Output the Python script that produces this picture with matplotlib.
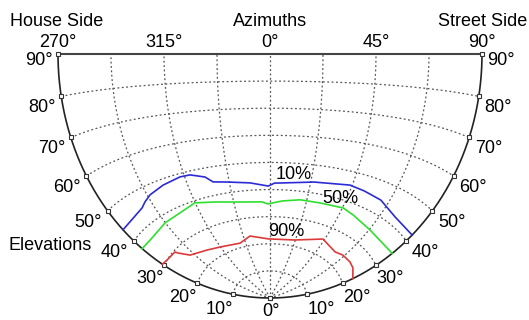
import numpy as np
import matplotlib
matplotlib.use('Agg')
import matplotlib.pyplot as plt

plt.rcParams['font.family'] = ['Liberation Sans', 'DejaVu Sans']
plt.rcParams['font.size'] = 13

# сетка и подписи осей
elev_ticks = [0, 10, 20, 30, 40, 50, 60, 70, 80, 90]
az_ticks = [-90, -45, 0, 45, 90]
az_labels = ['270°', '315°', '0°', '45°', '90°']
az_grid = [-67.5, -45, -22.5, 0, 22.5, 45, 67.5]
el_grid = [10, 20, 30, 40, 50, 60, 70, 80]

# изолинии (азимут, возвышение)
az_10 = [-90, -73.7, -70.5, -66.1, -57.4, -47.3, -42.0, -34.7, -31.2, -23.2,
         -11.2, -1.0, 2.6, 6.2, 24.3, 43.8, 52.3, 63.1, 75.4, 90]
el_10 = [43.9, 44.9, 45.9, 47.0, 48.1, 48.9, 48.7, 46.9, 44.7, 43.8,
         42.7, 41.3, 42.4, 42.5, 43.9, 45.4, 45.0, 44.4, 42.4, 42.1]

az_50 = [-90, -82.4, -67.7, -56.3, -45.2, -33.6, -19.9, -5.0, -1.3, 7.5,
         18.4, 30.8, 45.4, 53.1, 68.0, 90]
el_50 = [37.1, 36.8, 37.7, 38.1, 39.3, 37.7, 36.2, 35.5, 34.7, 35.9,
         36.9, 37.0, 37.5, 36.6, 35.2, 35.2]

az_90 = [-90, -85.4, -76.6, -75.7, -70.4, -56.6, -45.5, -27.4, -17.0, -1.4,
         22.1, 43.7, 59.1, 66.2, 75.2, 81.2, 90]
el_90 = [30.5, 30.0, 29.6, 28.8, 25.9, 23.9, 22.7, 21.6, 23.4, 21.8,
         22.3, 25.5, 23.8, 24.5, 24.6, 24.3, 23.0]


def project(az, el):
    # равнопромежуточная проекция полусферы
    a = np.radians(np.asarray(az, dtype=float))
    e = np.radians(np.asarray(el, dtype=float))
    X = np.sin(e) * np.sin(a)
    Y = np.cos(e)
    Z = np.sin(e) * np.cos(a)
    c = np.arccos(np.clip(Z, -1, 1))
    h = np.hypot(X, Y)
    h = np.where(h == 0, 1, h)
    r = c / (np.pi / 2)
    return r * X / h, -r * Y / h


fig = plt.figure(figsize=(5.29, 3.2), dpi=100)
ax = fig.add_axes([0, 0, 1, 1])
ax.set_xlim(-1.2736, 1.2217)
ax.set_ylim(-1.0902, 0.2213)
ax.axis('off')

grid_style = dict(color='#555555', lw=0.9, ls=(0, (1.5, 2.0)))
t = np.linspace(-90, 90, 200)
for e in el_grid:
    ax.plot(*project(t, np.full_like(t, e)), **grid_style)
s = np.linspace(0, 90, 200)
for a in az_grid:
    ax.plot(*project(np.full_like(s, a), s), **grid_style)

# контур
ax.plot(*project(np.full_like(s, -90), s), color='#222222', lw=1.2)
ax.plot(*project(np.full_like(s, 90), s), color='#222222', lw=1.2)
ax.plot(*project(t, np.full_like(t, 90)), color='#444444', lw=1.5)

for side in (-90, 90):
    ax.plot(*project(np.full(len(elev_ticks), side), elev_ticks), ls='none',
            marker='s', ms=3.2, mfc='white', mec='#333333', mew=0.8)

ax.plot(*project(az_10, el_10), color='#2b2bd6', lw=1.2)
ax.plot(*project(az_50, el_50), color='#2ee02e', lw=1.2)
ax.plot(*project(az_90, el_90), color='#dd3a3a', lw=1.2)

for txt, a, e in [('10%', 12.9, 45.7), ('50%', 41.3, 40.3), ('90%', 12.9, 25.0)]:
    x, y = project(a, e)
    ax.text(float(x), float(y), txt, ha='center', va='center')

# подписи азимутов
for a, lab in zip(az_ticks, az_labels):
    x, y = project(a, 90)
    ax.annotate(lab, (float(x), float(y)), xytext=(0, 7), textcoords='offset pixels',
                ha='center', va='baseline')

# подписи возвышений
for e in elev_ticks:
    if e == 0:
        x, y = project(0, 0)
        ax.annotate('0°', (float(x), float(y)), xytext=(1, -18), textcoords='offset pixels',
                    ha='center', va='baseline')
        continue
    dy = -11 if e == 90 else -(16 + max(0, 40 - e) * 0.12)
    dx = 5.5 if e >= 40 else 0.5
    x, y = project(-90, e)
    ax.annotate(f'{e}°', (float(x), float(y)), xytext=(-dx, dy), textcoords='offset pixels',
                ha='right', va='baseline')
    x, y = project(90, e)
    ax.annotate(f'{e}°', (float(x), float(y)), xytext=(dx, dy), textcoords='offset pixels',
                ha='left', va='baseline')

fig.text(10 / 529, 1 - 26 / 320, 'House Side', ha='left', va='baseline')
fig.text(270 / 529, 1 - 26 / 320, 'Azimuths', ha='center', va='baseline')
fig.text(527 / 529, 1 - 26 / 320, 'Street Side', ha='right', va='baseline')
fig.text(9 / 529, 1 - 250 / 320, 'Elevations', ha='left', va='baseline')

fig.savefig('out.png', dpi=100)
